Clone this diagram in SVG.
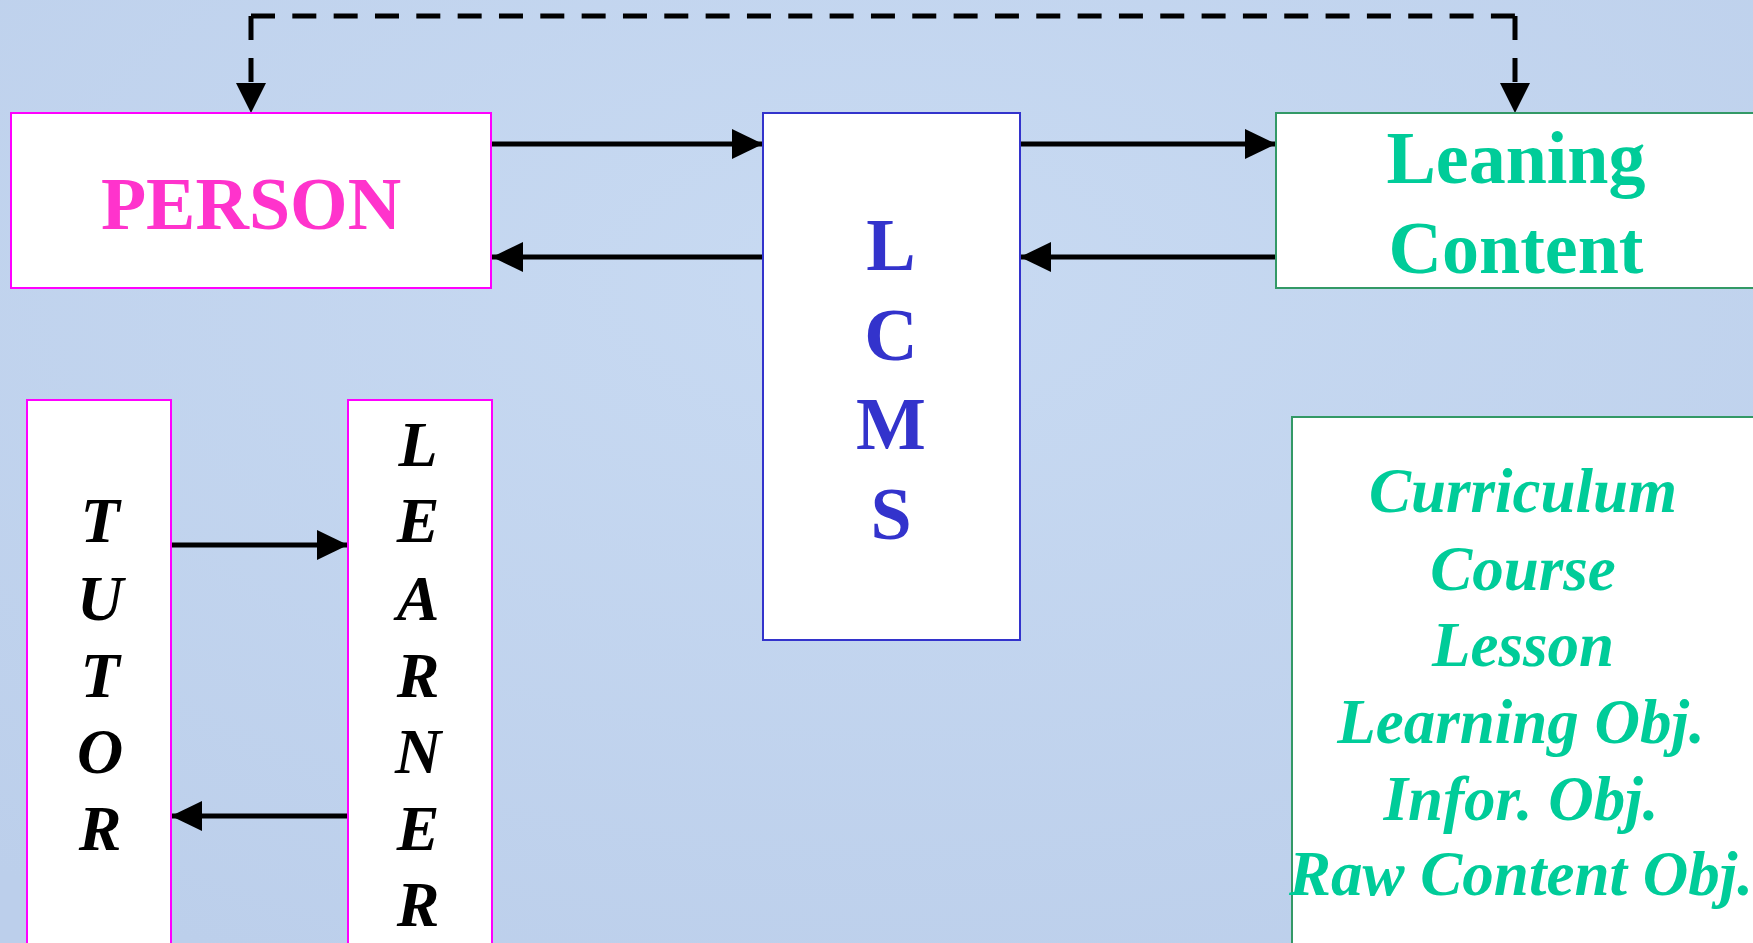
<svg xmlns="http://www.w3.org/2000/svg" width="1753" height="943" viewBox="0 0 1753 943">
  <defs>
    <radialGradient id="bg" cx="0.5" cy="0.3" r="0.8">
      <stop offset="0" stop-color="#c8daf2"/>
      <stop offset="1" stop-color="#bccfeb"/>
    </radialGradient>
    <marker id="ah" markerUnits="userSpaceOnUse" markerWidth="31" markerHeight="30" refX="31" refY="15" orient="auto">
      <path d="M0,0 L31,15 L0,30 Z" fill="#000"/>
    </marker>
    <style>
      .box { fill: #ffffff; stroke-width: 2; }
      .mag { stroke: #ff00ff; }
      .blu { stroke: #3333cc; }
      .grn { stroke: #339966; }
      .big { font-family: "Liberation Serif", "Times New Roman", serif; font-weight: bold; font-size: 74px; text-anchor: middle; }
      .ital { font-family: "Liberation Serif", "Times New Roman", serif; font-weight: bold; font-style: italic; text-anchor: middle; }
      .conn { stroke: #000; stroke-width: 5; fill: none; }
      .dash { stroke: #000; stroke-width: 5; fill: none; stroke-dasharray: 24 17.33; }
      .vdash { stroke: #000; stroke-width: 5; fill: none; stroke-dasharray: 24 18; }
    </style>
  </defs>
  <rect x="0" y="0" width="1753" height="943" fill="url(#bg)"/>

  <g id="connectors">
    <path class="dash" d="M251,16 H1515"/>
    <path class="vdash" d="M251,16 V84"/>
    <path class="vdash" d="M1515,16 V84"/>
    <path d="M236,83 L266,83 L251,113 Z" fill="#000"/>
    <path d="M1500,83 L1530,83 L1515,113 Z" fill="#000"/>
    <line class="conn" x1="492" y1="144" x2="763" y2="144" marker-end="url(#ah)"/>
    <line class="conn" x1="763" y1="257" x2="492" y2="257" marker-end="url(#ah)"/>
    <line class="conn" x1="1020" y1="144" x2="1276" y2="144" marker-end="url(#ah)"/>
    <line class="conn" x1="1276" y1="257" x2="1020" y2="257" marker-end="url(#ah)"/>
    <line class="conn" x1="171" y1="545" x2="348" y2="545" marker-end="url(#ah)"/>
    <line class="conn" x1="348" y1="816" x2="171" y2="816" marker-end="url(#ah)"/>
  </g>

  <g id="person">
    <rect class="box mag" x="11" y="113" width="480" height="175"/>
    <text class="big" x="251" y="229" fill="#ff33cc">PERSON</text>
  </g>

  <g id="lcms">
    <rect class="box blu" x="763" y="113" width="257" height="527"/>
    <text class="big" fill="#3333cc" x="891" y="270">L</text>
    <text class="big" fill="#3333cc" x="891" y="360">C</text>
    <text class="big" fill="#3333cc" x="891" y="449">M</text>
    <text class="big" fill="#3333cc" x="891" y="539">S</text>
  </g>

  <g id="leaning-content">
    <rect class="box grn" x="1276" y="113" width="490" height="175"/>
    <text class="big" fill="#00cc99" x="1516" y="183">Leaning</text>
    <text class="big" fill="#00cc99" x="1516" y="273">Content</text>
  </g>

  <g id="tutor">
    <rect class="box mag" x="27" y="400" width="144" height="560"/>
    <text class="ital" font-size="64" fill="#000" x="100" y="542">T</text>
    <text class="ital" font-size="64" fill="#000" x="100" y="620">U</text>
    <text class="ital" font-size="64" fill="#000" x="100" y="697">T</text>
    <text class="ital" font-size="64" fill="#000" x="100" y="773">O</text>
    <text class="ital" font-size="64" fill="#000" x="100" y="850">R</text>
  </g>

  <g id="learner">
    <rect class="box mag" x="348" y="400" width="144" height="560"/>
    <text class="ital" font-size="64" fill="#000" x="418" y="466">L</text>
    <text class="ital" font-size="64" fill="#000" x="418" y="542">E</text>
    <text class="ital" font-size="64" fill="#000" x="418" y="620">A</text>
    <text class="ital" font-size="64" fill="#000" x="418" y="697">R</text>
    <text class="ital" font-size="64" fill="#000" x="418" y="773">N</text>
    <text class="ital" font-size="64" fill="#000" x="418" y="850">E</text>
    <text class="ital" font-size="64" fill="#000" x="418" y="926">R</text>
  </g>

  <g id="content-levels">
    <rect class="box grn" x="1292" y="417" width="480" height="560"/>
    <text class="ital" font-size="63" fill="#00cc99" x="1523" y="512">Curriculum</text>
    <text class="ital" font-size="63" fill="#00cc99" x="1523" y="590">Course</text>
    <text class="ital" font-size="63" fill="#00cc99" x="1523" y="666">Lesson</text>
    <text class="ital" font-size="63" fill="#00cc99" x="1521" y="743">Learning Obj.</text>
    <text class="ital" font-size="63" fill="#00cc99" x="1521" y="820">Infor. Obj.</text>
    <text class="ital" font-size="63" fill="#00cc99" x="1521" y="895">Raw Content Obj.</text>
  </g>
</svg>
